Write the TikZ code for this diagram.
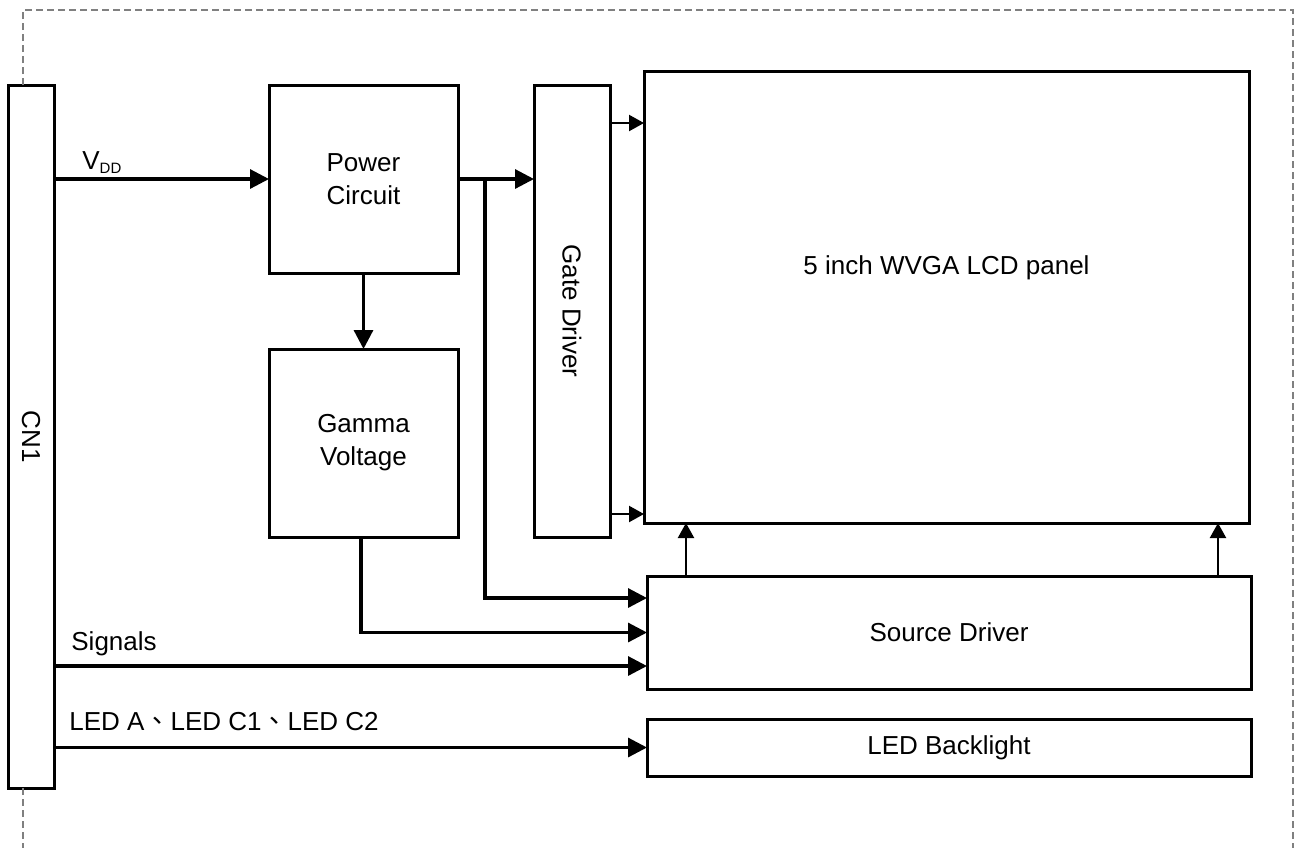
\documentclass[tikz,border=0pt]{standalone}
\usepackage{fontspec}
\setmainfont{Liberation Sans}
\newfontfamily\cjk{Noto Sans CJK TC}
\usetikzlibrary{arrows.meta,calc}
\begin{document}
\begin{tikzpicture}[x=0.5pt,y=-0.5pt,
  font=\fontsize{13}{16.5}\selectfont,
  blk/.style={draw=black,line width=1.5pt,inner sep=0pt,outer sep=0pt,align=center},
  conn/.style={draw=black,line width=1.6pt,-{Triangle[length=9.5pt,width=9.5pt]}},
  thin/.style={draw=black,line width=1.1pt,-{Triangle[length=7.5pt,width=8pt]}},
  frame/.style={draw=black!50,line width=0.8pt,dash pattern=on 3.5pt off 2pt},
  lbl/.style={inner sep=0pt,anchor=base west}]
\useasboundingbox (0,0) rectangle (1297,848);
% nodes
\node[blk,minimum width=23pt,minimum height=351.5pt] (cn1) at (31,436.5) {};
\node[rotate=-90] (cn1t) at (cn1.center) {CN1};
\node[blk,minimum width=94.5pt,minimum height=94pt] (pwr) at (363.5,179) {Power\\Circuit};
\node[blk,minimum width=94.5pt,minimum height=94pt] (gam) at (363.5,443) {Gamma\\Voltage};
\node[blk,minimum width=38pt,minimum height=226pt] (gate) at (572,311) {};
\node[rotate=-90] (gatet) at (gate.center) {Gate Driver};
\node[blk,minimum width=302.5pt,minimum height=226pt] (lcd) at (946.5,297) {};
\node (lcdt) at (946.5,268) {5 inch WVGA LCD panel};
\node[blk,minimum width=302pt,minimum height=56.5pt] (src) at (949,632.5) {Source Driver};
\node[blk,minimum width=302pt,minimum height=28.5pt] (led) at (949,747.5) {LED Backlight};
% frame
\draw[frame] (cn1.north -| 23,0) -- (23,10) -- (1293,10) -- (1293,848);
\draw[frame] (cn1.south -| 23,0) -- (23,848);
% labels
\node[lbl] (vdd) at (82,169) {V\raisebox{-2pt}{\fontsize{7.5}{9}\selectfont DD}};
\node[lbl] (sig) at (71,650) {Signals};
\node[lbl] (ledl) at (69,730) {LED A{\cjk 、}LED C1{\cjk 、}LED C2};
% connectors
\coordinate (br) at (485,0 |- pwr.east);
\coordinate (gx) at (361,0);
\draw[conn] (cn1.east |- pwr.west) -- (pwr.west);
\draw[conn] (pwr.east) -- (gate.west |- pwr.east);
\draw[conn] (br) |- ($(src.north west)+(0,22)$);
\draw[conn] (pwr.south) -- (gam.north);
\draw[conn] (gam.south -| gx) |- (src.west);
\draw[conn] (cn1.east |- 0,666) -- (src.west |- 0,666);
\draw[conn] (cn1.east |- led.west) -- (led.west);
\draw[thin] (gate.east |- 0,123) -- (lcd.west |- 0,123);
\draw[thin] (gate.east |- 0,514) -- (lcd.west |- 0,514);
\draw[thin] (src.north -| 686,0) -- (lcd.south -| 686,0);
\draw[thin] (src.north -| 1218,0) -- (lcd.south -| 1218,0);
\end{tikzpicture}
\end{document}
